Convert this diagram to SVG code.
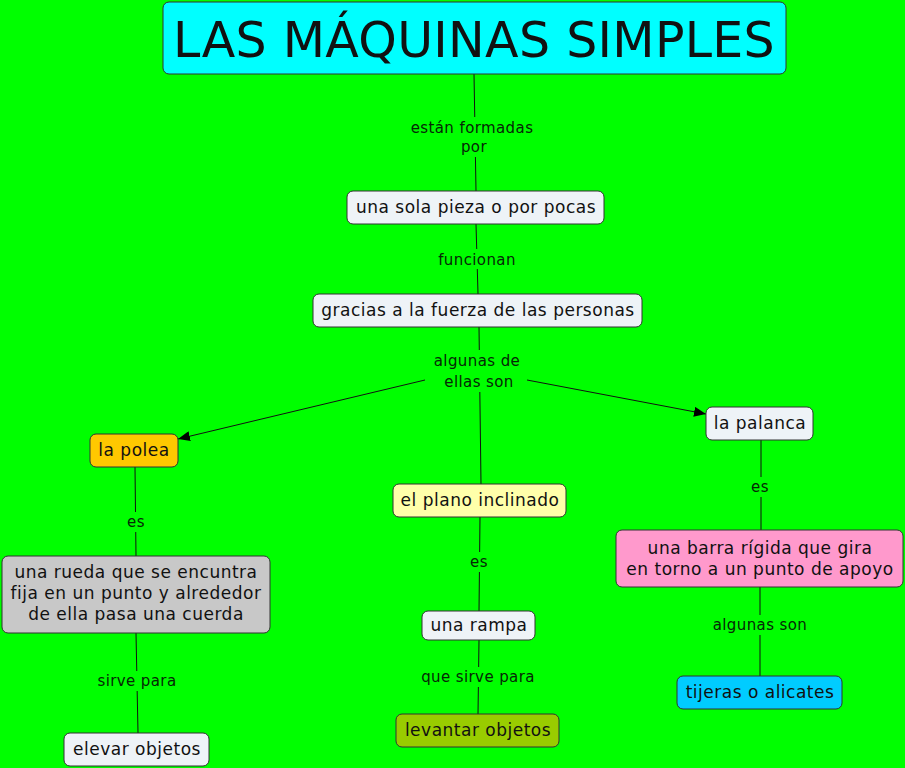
<svg xmlns="http://www.w3.org/2000/svg" width="905" height="768" viewBox="0 0 905 768">
<defs>
<marker id="arr" viewBox="0 0 12 10" refX="12" refY="5" markerWidth="12" markerHeight="10" markerUnits="userSpaceOnUse" orient="auto">
<path d="M0,0 L12,5 L0,10 Z" fill="#000"/>
</marker>
<style>
.n rect{stroke:#333;stroke-width:1;}
.n text{font-family:"DejaVu Sans",Verdana,sans-serif;font-size:17px;letter-spacing:0.5px;fill:#111;text-anchor:middle;}
.c line{stroke:#111;stroke-width:1;fill:none;}
.lb{fill:#00FF00;}
.lt{font-family:"DejaVu Sans",Verdana,sans-serif;font-size:15px;letter-spacing:0.4px;fill:#062806;text-anchor:middle;}
</style>
</defs>
<rect width="905" height="768" fill="#00FF00"/>
<g id="connectors" class="c">
<line x1="474" y1="74" x2="476" y2="191"/>
<line x1="476" y1="224" x2="478" y2="294"/>
<line x1="479" y1="327" x2="481" y2="484"/>
<line x1="425" y1="380" x2="178" y2="439" marker-end="url(#arr)"/>
<line x1="527" y1="380" x2="706" y2="414" marker-end="url(#arr)"/>
<line x1="135" y1="467" x2="136" y2="556"/>
<line x1="136" y1="633" x2="138" y2="733"/>
<line x1="480" y1="517" x2="479" y2="611"/>
<line x1="479" y1="640" x2="478" y2="714"/>
<line x1="761" y1="440" x2="761" y2="530"/>
<line x1="760" y1="587" x2="760" y2="676"/>
<rect class="lb" x="406" y="117" width="130" height="40"/>
<text class="lt" x="472" y="133">están formadas</text>
<text class="lt" x="474" y="152">por</text>
<rect class="lb" x="436" y="249" width="82" height="20"/>
<text class="lt" x="477" y="265">funcionan</text>
<rect class="lb" x="428" y="350" width="98" height="42"/>
<text class="lt" x="477" y="366">algunas de</text>
<text class="lt" x="479" y="387">ellas son</text>
<rect class="lb" x="124" y="512" width="24" height="20"/>
<text class="lt" x="136" y="527">es</text>
<rect class="lb" x="95" y="671" width="86" height="20"/>
<text class="lt" x="137" y="686">sirve para</text>
<rect class="lb" x="467" y="552" width="24" height="20"/>
<text class="lt" x="479" y="567">es</text>
<rect class="lb" x="419" y="667" width="118" height="20"/>
<text class="lt" x="478" y="682">que sirve para</text>
<rect class="lb" x="748" y="477" width="24" height="20"/>
<text class="lt" x="760" y="492">es</text>
<rect class="lb" x="708" y="615" width="104" height="20"/>
<text class="lt" x="760" y="630">algunas son</text>
</g>
<g id="n-titulo" class="n">
<rect x="163" y="2" width="623" height="72" rx="6" fill="#00FFFF"/>
<text x="474" y="57" style="font-size:49px;letter-spacing:0.3px">LAS MÁQUINAS SIMPLES</text>
</g>
<g id="n-pieza" class="n">
<rect x="347" y="191" width="257" height="33" rx="6" fill="#EEF3F7"/>
<text x="476" y="213">una sola pieza o por pocas</text>
</g>
<g id="n-gracias" class="n">
<rect x="313" y="294" width="329" height="33" rx="6" fill="#EEF3F7"/>
<text x="478" y="316">gracias a la fuerza de las personas</text>
</g>
<g id="n-polea" class="n">
<rect x="90" y="434" width="88" height="33" rx="6" fill="#FFC800"/>
<text x="134" y="456">la polea</text>
</g>
<g id="n-palanca" class="n">
<rect x="706" y="407" width="107" height="33" rx="6" fill="#EEF3F7"/>
<text x="760" y="429">la palanca</text>
</g>
<g id="n-plano" class="n">
<rect x="393" y="484" width="173" height="33" rx="6" fill="#FFFFAA"/>
<text x="480" y="506">el plano inclinado</text>
</g>
<g id="n-rueda" class="n">
<rect x="2" y="556" width="268" height="77" rx="6" fill="#C8C8C8"/>
<text x="136" y="578">una rueda que se encuntra</text>
<text x="136" y="599">fija en un punto y alrededor</text>
<text x="136" y="620">de ella pasa una cuerda</text>
</g>
<g id="n-elevar" class="n">
<rect x="64" y="733" width="145" height="33" rx="6" fill="#EEF3F7"/>
<text x="137" y="755">elevar objetos</text>
</g>
<g id="n-rampa" class="n">
<rect x="422" y="611" width="113" height="29" rx="6" fill="#EEF3F7"/>
<text x="479" y="631">una rampa</text>
</g>
<g id="n-levantar" class="n">
<rect x="396" y="714" width="163" height="33" rx="6" fill="#99CC00"/>
<text x="478" y="736">levantar objetos</text>
</g>
<g id="n-barra" class="n">
<rect x="616" y="530" width="287" height="57" rx="6" fill="#FF99CC"/>
<text x="760" y="554">una barra rígida que gira</text>
<text x="760" y="575">en torno a un punto de apoyo</text>
</g>
<g id="n-tijeras" class="n">
<rect x="677" y="676" width="165" height="33" rx="6" fill="#00CCFF"/>
<text x="760" y="698">tijeras o alicates</text>
</g>
</svg>
